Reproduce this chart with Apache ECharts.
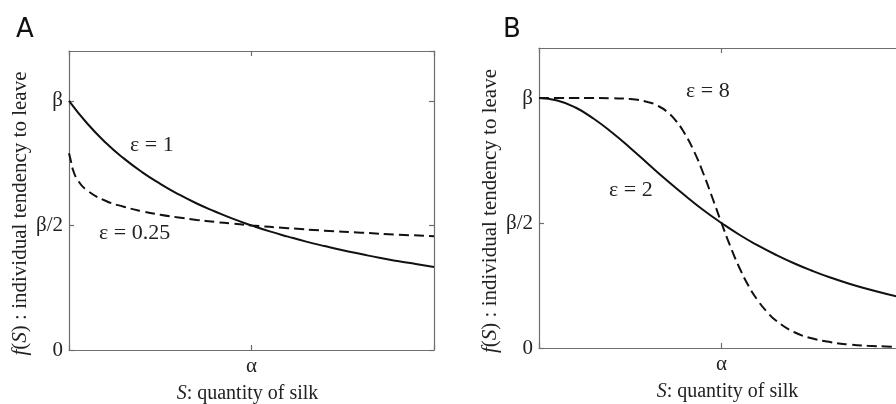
<!DOCTYPE html>
<html><head><meta charset="utf-8">
<script src="https://cdn.jsdelivr.net/npm/echarts@6/dist/echarts.min.js"></script>
<style>html,body{margin:0;padding:0;background:#fff}#c{width:896px;height:404px}</style>
</head><body><div id="c"></div>
<script>
// S in units of alpha, f(S) in units of beta
var sA1 = [0,0.1,0.2,0.3,0.4,0.5,0.6,0.7,0.8,0.9,1.0,1.1,1.2,1.3,1.4,1.5,1.6,1.7,1.8,1.9,2.0];
var fA1 = [1.0,0.909,0.833,0.769,0.714,0.667,0.625,0.588,0.556,0.526,0.5,0.476,0.455,0.435,0.417,0.4,0.385,0.370,0.357,0.345,0.333];
var sA025 = [0,0.01,0.02,0.05,0.1,0.2,0.3,0.4,0.5,0.6,0.7,0.8,0.9,1.0,1.2,1.4,1.6,1.8,2.0];
var fA025 = [0.79,0.76,0.727,0.679,0.640,0.599,0.575,0.557,0.543,0.532,0.522,0.514,0.507,0.5,0.489,0.479,0.471,0.463,0.457];
var sB2 = [0,0.1,0.2,0.3,0.4,0.5,0.6,0.7,0.8,0.9,1.0,1.1,1.2,1.3,1.4,1.5,1.6,1.7,1.8,1.9,2.0];
var fB2 = [1.0,0.990,0.962,0.917,0.862,0.8,0.735,0.671,0.610,0.552,0.5,0.452,0.410,0.372,0.338,0.308,0.281,0.257,0.236,0.217,0.2];
var sB8 = [0,0.1,0.2,0.3,0.4,0.5,0.6,0.65,0.7,0.75,0.8,0.85,0.9,0.95,1.0,1.05,1.1,1.15,1.2,1.25,1.3,1.4,1.5,1.6,1.7,1.8,1.9,2.0];
var fB8 = [1.0,1.0,1.0,1.0,0.999,0.996,0.983,0.969,0.946,0.909,0.856,0.786,0.699,0.601,0.5,0.404,0.318,0.246,0.189,0.144,0.109,0.063,0.038,0.023,0.014,0.009,0.006,0.004];
var yTickLabels = {'0':'0','0.5':'β/2','1':'β'};
var xTickLabels = {'1':'α'};
var xTitle = '{i|S}: quantity of silk';
var yTitle = '{i|f}({i|S}) : individual tendency to leave';

function pairs(xs, ys){ return xs.map(function(x,i){return [x, ys[i]];}); }

var serif = 'Liberation Serif';
var axisCol = '#6e6e6e';

function xAx(gi, bottom, pad){
  return {
    type:'value', gridIndex:gi, position: bottom?'bottom':'top', min:0, max:2, interval:1,
    axisLine:{show:true,onZero:false,lineStyle:{color:axisCol,width:1.2}},
    axisTick:{show:true,inside:true,length:5,lineStyle:{color:axisCol,width:1.2}},
    splitLine:{show:false},
    axisLabel: bottom ? {show:true,margin:6,fontFamily:serif,fontSize:21,color:'#222',
      formatter:function(v){var k=String(Math.round(v*100)/100);return xTickLabels[k]||'';}} : {show:false},
    name: bottom ? xTitle : '', nameLocation:'middle', nameGap:34,
    nameTextStyle:{fontFamily:serif,fontSize:20,color:'#222',padding:pad||0,
      rich:{i:{fontStyle:'italic',fontFamily:serif,fontSize:20,color:'#222'}}}
  };
}
function yAx(gi, left){
  return {
    type:'value', gridIndex:gi, position: left?'left':'right', min:0, max:1.2, interval:0.5,
    axisLine:{show:true,onZero:false,lineStyle:{color:axisCol,width:1.2}},
    axisTick:{show:true,inside:true,length:5,lineStyle:{color:axisCol,width:1.2}},
    splitLine:{show:false},
    axisLabel: left ? {show:true,margin:6,fontFamily:serif,fontSize:21,color:'#222',showMaxLabel:false,
      formatter:function(v){var k=String(Math.round(v*100)/100);return yTickLabels[k]||'';}} : {show:false},
    name: left ? yTitle : '', nameLocation:'middle', nameGap:38, nameRotate:90,
    nameTextStyle:{fontFamily:serif,fontSize:21,color:'#222',padding:[0,26,0,0],
      rich:{i:{fontStyle:'italic',fontFamily:serif,fontSize:21,color:'#222'}}}
  };
}
function line(xi, data, dashed){
  return {type:'line', xAxisIndex:xi, yAxisIndex:xi, data:data, showSymbol:false, smooth:0.5,
    lineStyle:{color:'#111',width:2,type: dashed?[10,5]:'solid'}, animation:false, z:3};
}
function ann(txt, x, y){
  return {type:'text', left:x, top:y, style:{text:txt, font:'22px "Liberation Serif"', fill:'#222'}};
}

var chart = echarts.init(document.getElementById('c'), null, {renderer:'canvas'});
chart.setOption({
  animation:false,
  grid:[
    {left:69, top:51, width:365, height:299, containLabel:false, outerBoundsMode:'none'},
    {left:539, top:48, width:365, height:300, containLabel:false, outerBoundsMode:'none'}
  ],
  xAxis:[xAx(0,true,[0,8,0,0]), xAx(1,true,[0,0,0,12]), xAx(0,false), xAx(1,false)],
  yAxis:[yAx(0,true), yAx(1,true), yAx(0,false), yAx(1,false)],
  series:[
    line(0, pairs(sA1,fA1), false),
    line(0, pairs(sA025,fA025), true),
    line(1, pairs(sB2,fB2), false),
    line(1, pairs(sB8,fB8), true)
  ],
  graphic:[
    {type:'text', left:16, top:17, style:{text:'A', font:'26px "DejaVu Sans"', fill:'#111'}},
    {type:'text', left:503, top:17, style:{text:'B', font:'26px "DejaVu Sans"', fill:'#111'}},
    ann('ε = 1', 130, 134),
    ann('ε = 0.25', 99, 222),
    ann('ε = 8', 686, 80),
    ann('ε = 2', 609, 179)
  ]
});
</script></body></html>
